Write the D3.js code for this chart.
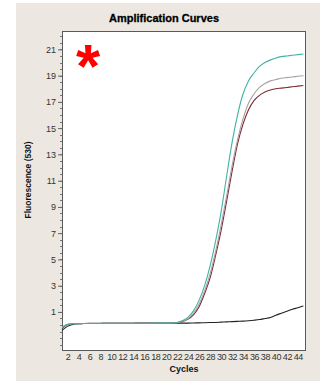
<!DOCTYPE html>
<html>
<head>
<meta charset="utf-8">
<script src="https://cdn.jsdelivr.net/npm/d3@7"></script>
<style>
body { margin: 0; background: white; }
text { font-family: "Liberation Sans", Arial, sans-serif; }
</style>
</head>
<body>
<script>
var wd = 320
var ht = 381

// cycle numbers and fluorescence readings
var cycles = d3.range(1, 46)
var teal   = [-0.15,0.05,0.1,0.1,0.12,0.12,0.12,0.12,0.13,0.13,0.13,0.13,0.13,0.14,0.14,0.14,0.14,0.15,0.15,0.15,0.16,0.2,0.35,0.6,1.1,1.9,3.0,4.5,6.4,8.6,11.3,13.9,16.0,17.6,18.6,19.2,19.7,20.0,20.2,20.35,20.45,20.5,20.55,20.6,20.65]
var gray   = [-0.2,0.05,0.1,0.1,0.12,0.12,0.12,0.12,0.13,0.13,0.13,0.13,0.13,0.14,0.14,0.14,0.14,0.15,0.15,0.15,0.16,0.18,0.3,0.5,0.9,1.6,2.6,3.9,5.6,7.6,9.8,12.1,14.1,15.7,16.9,17.6,18.1,18.4,18.6,18.7,18.8,18.85,18.9,18.95,19.0]
var darkred= [-0.25,0.03,0.1,0.1,0.12,0.12,0.12,0.12,0.13,0.13,0.13,0.13,0.13,0.14,0.14,0.14,0.14,0.15,0.15,0.15,0.16,0.18,0.28,0.45,0.8,1.4,2.4,3.6,5.3,7.2,9.4,11.7,13.8,15.3,16.4,17.1,17.5,17.75,17.9,18.0,18.05,18.1,18.15,18.2,18.25]
var black  = [-0.4,-0.1,0.05,0.1,0.12,0.13,0.13,0.13,0.14,0.14,0.14,0.14,0.14,0.14,0.15,0.15,0.15,0.15,0.15,0.15,0.15,0.15,0.15,0.15,0.16,0.17,0.18,0.19,0.2,0.22,0.24,0.26,0.28,0.3,0.33,0.37,0.42,0.5,0.58,0.75,0.9,1.05,1.2,1.32,1.45]

var seriesList = [
  {name:"black", vals:black, col:"#222222"},
  {name:"darkred", vals:darkred, col:"#7b2b32"},
  {name:"gray", vals:gray, col:"#aa9ea2"},
  {name:"teal", vals:teal, col:"#3fb3a3"}
]

var xTicks = d3.range(2, 45, 2)
var yTicks = d3.range(1, 22, 2)
var yMinor = d3.range(-1.5, 22.5, 0.5)

var svgCont = d3.select("body").append("svg")
.attr("width", wd)
.attr("height", ht)

svgCont.append("rect")
.attr("x", 16).attr("y", 3)
.attr("width", wd - 16).attr("height", ht - 3)
.attr("fill", "#ece8e1")

var pLeft = 62, pRight = 305, pTop = 31, pBottom = 350

var x = d3.scaleLinear().domain([1, 45.3]).range([pLeft, pRight])
var y = d3.scaleLinear().domain([-1.9, 22.4]).range([pBottom, pTop])

svgCont.append("rect")
.attr("x", pLeft + 0.5).attr("y", pTop + 0.5)
.attr("width", pRight - pLeft).attr("height", pBottom - pTop)
.attr("fill", "white")
.attr("stroke", "#5a5a5a")
.attr("stroke-width", 1)

// minor y ticks
svgCont.append("g")
.selectAll("line")
.data(yMinor)
.enter().append("line")
.attr("x1", pLeft - 2).attr("x2", pLeft)
.attr("y1", function(d){ return Math.round(y(d)) + 0.5 })
.attr("y2", function(d){ return Math.round(y(d)) + 0.5 })
.attr("stroke", "#777")

var yAxis = d3.axisLeft(y).tickValues(yTicks).tickSize(4).tickPadding(2)
var gy = svgCont.append("g").attr("transform", "translate(" + pLeft + ",0)").call(yAxis)
gy.select(".domain").remove()
gy.selectAll("line").attr("stroke", "#666")
gy.selectAll("text").attr("font-size", 9).attr("fill", "#333").style("font-family", "Liberation Sans, Arial, sans-serif")

var xAxis = d3.axisBottom(x).tickValues(xTicks).tickSize(0).tickPadding(4)
var gx = svgCont.append("g").attr("transform", "translate(0," + pBottom + ")").call(xAxis)
gx.select(".domain").remove()
gx.selectAll("text").attr("font-size", 9).attr("fill", "#333").attr("letter-spacing", -0.4).style("font-family", "Liberation Sans, Arial, sans-serif")

var line = d3.line()
.x(function(d, i){ return x(cycles[i]) })
.y(function(d){ return y(d) })
.curve(d3.curveMonotoneX)

svgCont.append("g")
.selectAll("path")
.data(seriesList)
.enter().append("path")
.attr("d", function(d){ return line(d.vals) })
.attr("fill", "none")
.attr("stroke", function(d){ return d.col })
.attr("stroke-width", 1.1)

svgCont.append("text")
.attr("x", 164).attr("y", 22)
.attr("text-anchor", "middle")
.attr("font-size", 11).attr("font-weight", "bold")
.attr("fill", "#000")
.attr("stroke", "#000").attr("stroke-width", 0.3)
.text("Amplification Curves")

svgCont.append("text")
.attr("transform", "translate(31,180) rotate(-90)")
.attr("text-anchor", "middle")
.attr("font-size", 8.5).attr("font-weight", "bold")
.attr("fill", "#111")
.text("Fluorescence (530)")

svgCont.append("text")
.attr("x", 184).attr("y", 372)
.attr("text-anchor", "middle")
.attr("font-size", 9).attr("font-weight", "bold")
.attr("fill", "#111")
.text("Cycles")

svgCont.append("text")
.attr("x", 88).attr("y", 87)
.attr("text-anchor", "middle")
.attr("font-size", 62).attr("font-weight", "bold")
.attr("fill", "#ff0000")
.text("*")
</script>
</body>
</html>
